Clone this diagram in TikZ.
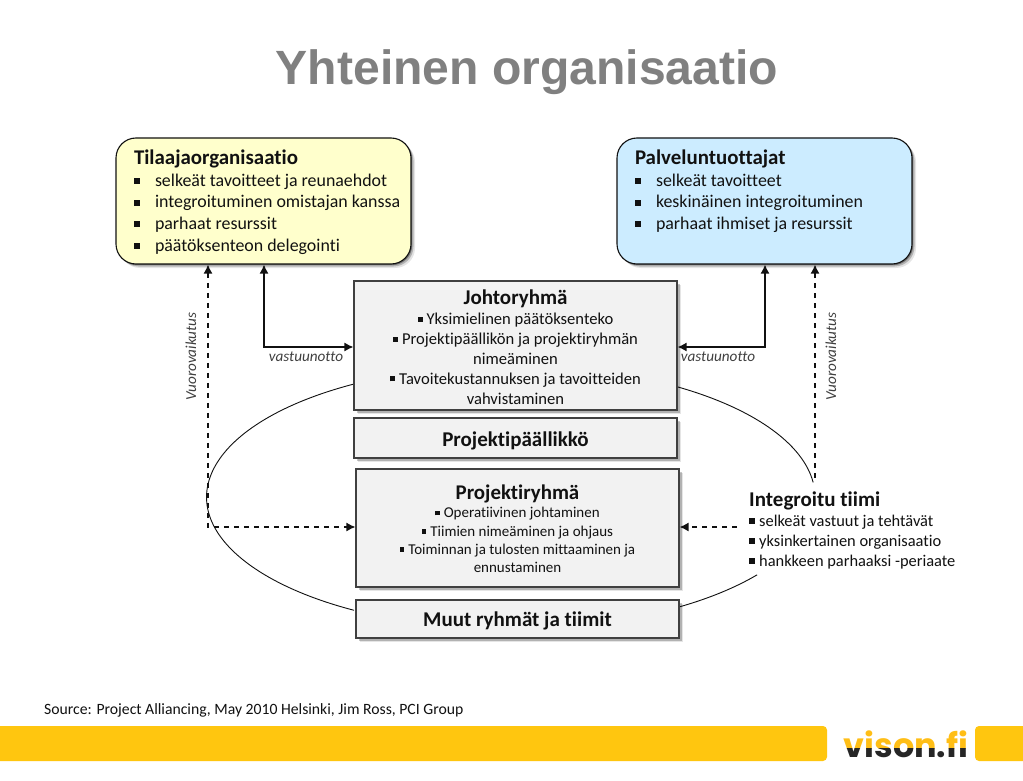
\documentclass[tikz,border=0pt]{standalone}
\usepackage{fontspec}
\setmainfont{Carlito}[Ligatures=NoCommon]
\newfontfamily\headfont{Liberation Sans}
\newfontfamily\logofont{Poppins}
\usetikzlibrary{shadows,arrows.meta}
\definecolor{bandyellow}{HTML}{FFC60F}
\definecolor{logoyellow}{HTML}{FFBE16}
\definecolor{ink}{HTML}{111111}
\definecolor{boxgray}{HTML}{F2F2F2}
\definecolor{boxedge}{HTML}{404040}
\definecolor{paleyellow}{HTML}{FFFFCC}
\definecolor{paleblue}{HTML}{CCECFF}
\newcommand{\fs}[2]{\fontsize{#1}{#2}\selectfont}
\newcommand{\sqb}[1]{\rule[0.5pt]{#1}{#1}}
\newcommand{\orgitem}[1]{\makebox[21pt][l]{\rule[2pt]{6pt}{6pt}}#1\par}
\newcommand{\tmitem}[1]{\makebox[10pt][l]{\rule[2.5pt]{6pt}{6pt}}#1\par}
\newcommand{\cb}[2]{\mbox{\raisebox{#2}{\sqb{#1}}\hspace{4pt}}}
\tikzset{
  softshadow/.style={
    drop shadow={shadow xshift=1.2pt,shadow yshift=-1.2pt,opacity=.35,fill=black},
    drop shadow={shadow xshift=2.5pt,shadow yshift=-2.5pt,opacity=.22,fill=black},
    drop shadow={shadow xshift=4pt,shadow yshift=-4pt,opacity=.1,fill=black}},
  orgbox/.style={draw=ink,line width=1.1pt,rounded corners=20pt,inner sep=0pt,softshadow},
  graybox/.style={draw=boxedge,line width=1.1pt,fill=boxgray,inner sep=0pt,softshadow,text=ink},
  link/.style={line width=1.4pt,draw=ink,-{Latex[length=9pt,width=9pt]}},
  biglink/.style={line width=1.4pt,draw=ink,{Latex[length=9pt,width=9pt]}-{Latex[length=9pt,width=9pt]}},
  dashlink/.style={link,dash pattern=on 5.5pt off 4.5pt},
  bidash/.style={biglink,dash pattern=on 5.5pt off 4.5pt},
  ring/.style={line width=0.9pt,draw=ink},
  caption/.style={inner sep=0pt,text=black!75,font=\fs{15.2}{17}\itshape},
}
\begin{document}
\begin{tikzpicture}[x=1pt,y=-1pt]
\useasboundingbox (0,0) rectangle (1023,781);
\fill[white] (0,0) rectangle (1023,781);

% title
\node[anchor=base,inner sep=0pt,text=black!50,font=\headfont\bfseries\fs{48.1}{52}] (title) at (527,85) {Yhteinen organisaatio};

% ring
\coordinate (ringa) at (354,384);
\coordinate (ringb) at (678,387);
\coordinate (ringc) at (679,607);
\draw[ring] (ringa) arc[start angle=-121,end angle=-239,x radius=304,y radius=132];
\draw[ring] (ringb) arc[start angle=-56.7,end angle=-6.5,x radius=304,y radius=132];
\draw[ring] (ringc) arc[start angle=56.7,end angle=36.3,x radius=304,y radius=132];

% organisations
\node[orgbox,fill=paleyellow,text=ink] (tilaaja) at (263.5,201) {\parbox[c][126pt][t]{295pt}{\fs{17.9}{21.6}\selectfont\leftskip=18pt\parindent=0pt
\vspace*{12pt}{\fs{20.9}{22}\bfseries Tilaajaorganisaatio\par}
\orgitem{selkeät tavoitteet ja reunaehdot}
\orgitem{integroituminen omistajan kanssa}
\orgitem{parhaat resurssit}
\orgitem{päätöksenteon delegointi}}};
\node[orgbox,fill=paleblue,text=ink] (palvelu) at (764.5,201) {\parbox[c][126pt][t]{295pt}{\fs{17.9}{21.6}\selectfont\leftskip=18pt\parindent=0pt
\vspace*{12pt}{\fs{20.9}{22}\bfseries Palveluntuottajat\par}
\orgitem{selkeät tavoitteet}
\orgitem{keskinäinen integroituminen}
\orgitem{parhaat ihmiset ja resurssit}}};

% gray boxes
\node[graybox] (johto) at (515.5,345.5) {\parbox[c][129pt][t]{323pt}{\centering\fs{16.6}{19.9}\selectfont
\vspace*{9pt}{\fs{21}{23}\bfseries Johtoryhmä\par}
\cb{5pt}{2.5pt}Yksimielinen päätöksenteko\par
\cb{5pt}{2.5pt}Projektipäällikön ja projektiryhmän\par
nimeäminen\par
\cb{5pt}{2.5pt}Tavoitekustannuksen ja tavoitteiden\par
vahvistaminen\par}};
\node[graybox] (pp) at (515.5,438) {\parbox[c][40pt][c]{323pt}{\centering\vspace*{5pt}\bfseries\fs{21}{23}\selectfont Projektipäällikkö\par}};
\node[graybox] (pr) at (517.5,528) {\parbox[c][118pt][t]{323pt}{\centering\fs{15}{18.2}\selectfont
\vspace*{16pt}{\fs{20.9}{25.5}\bfseries Projektiryhmä\par}
\cb{4.5pt}{2pt}Operatiivinen johtaminen\par
\cb{4.5pt}{2pt}Tiimien nimeäminen ja ohjaus\par
\cb{4.5pt}{2pt}Toiminnan ja tulosten mittaaminen ja\par
ennustaminen\par}};
\node[graybox] (muut) at (517.5,619) {\parbox[c][38pt][c]{323pt}{\centering\vspace*{4pt}\bfseries\fs{21}{23}\selectfont Muut ryhmät ja tiimit\par}};

% integrated team
\node[anchor=north west,inner sep=0pt,fill=white,text=ink] (tiimi) at (749,492) {\parbox[t]{212pt}{\fs{16.4}{20}\selectfont\parindent=0pt
{\fs{21}{22}\bfseries Integroitu tiimi\par}
\tmitem{selkeät vastuut ja tehtävät}
\tmitem{yksinkertainen organisaatio}
\tmitem{hankkeen parhaaksi -periaate}}};

% connectors
\coordinate (lbend) at (264,347);
\coordinate (rbend) at (765,347);
\draw[biglink] (tilaaja.south -| lbend) -- (lbend) -- (johto.west |- lbend);
\draw[biglink] (palvelu.south -| rbend) -- (rbend) -- (johto.east |- rbend);
\coordinate (dashbend) at (208,527);
\draw[bidash] (tilaaja.south -| dashbend) -- (dashbend) -- (pr.west |- dashbend);
\coordinate (upstart) at (815,478);
\draw[dashlink] (upstart) -- (palvelu.south -| upstart);
\coordinate (teamout) at (737,527);
\draw[dashlink] (teamout) -- (pr.east |- teamout);

% labels
\node[caption] (vast1) at (306,357) {vastuunotto};
\node[caption] (vast2) at (718,357) {vastuunotto};
\node[caption,rotate=90] (vuoro1) at (191,356.5) {Vuorovaikutus};
\node[caption,rotate=90] (vuoro2) at (831,356.5) {Vuorovaikutus};

% footer
\node[anchor=base west,inner sep=0pt,text=ink,font=\fs{15.7}{18}] (source) at (44,714) {Source: Project Alliancing, May 2010 Helsinki, Jim Ross, PCI Group};
\fill[bandyellow,rounded corners=4pt] (-10,726) rectangle (827,761);
\fill[bandyellow,rounded corners=4pt] (975,726) rectangle (1033,761);
\begin{scope}
\clip (840,720) rectangle (975,748);
\node[anchor=base,inner sep=0pt,text=logoyellow,font=\logofont\bfseries\fs{33.4}{36}] (logo) at (906,757) {vison.fi};
\end{scope}
\begin{scope}
\clip (840,748) rectangle (975,765);
\node[anchor=base,inner sep=0pt,text=black!85,font=\logofont\bfseries\fs{33.4}{36}] (logob) at (906,757) {vison.fi};
\end{scope}
\end{tikzpicture}
\end{document}
